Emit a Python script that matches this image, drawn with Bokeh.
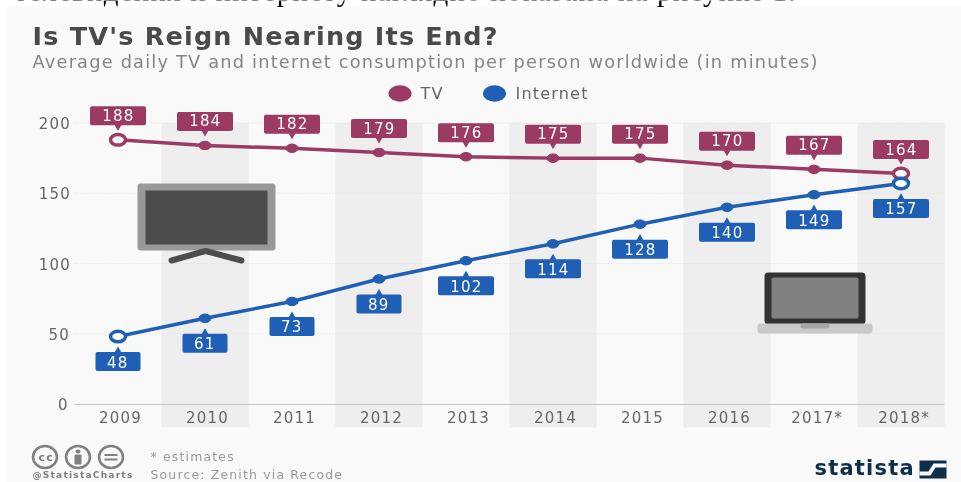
from bokeh.plotting import figure
from bokeh.models import Range1d, LinearAxis, FixedTicker
from bokeh.core.properties import value
from bokeh.embed import file_html
from bokeh.resources import INLINE

years = ["2009", "2010", "2011", "2012", "2013", "2014", "2015", "2016", "2017*", "2018*"]
tv = [188, 184, 182, 179, 176, 175, 175, 170, 167, 164]
internet = [48, 61, 73, 89, 102, 114, 128, 140, 149, 157]
y_ticks = [0, 50, 100, 150, 200]
TV_COL = "#9b3a63"
NET_COL = "#1f5fb5"
FONT = "DejaVu Sans"

W, H = 961, 482
XS, YS = 87.0, 1.405
def fx(px): return (px - 74) / XS - 0.5
def fy(py): return (403.5 - py) / YS
def dx(px): return px / XS
def dy(px): return px / YS

p = figure(width=W, height=H, toolbar_location=None, output_backend="svg", min_border=0,
           x_range=Range1d(fx(0), fx(W)), y_range=Range1d(fy(H), fy(0)),
           background_fill_color="#ffffff", border_fill_color="#ffffff", outline_line_color=None)
p.xaxis.visible = False
p.yaxis.visible = False
p.grid.visible = False
p.styles = {"position": "fixed", "left": "0px", "top": "0px", "letter-spacing": "1.2px"}

def rrect(l, t, r, b, color, radius=0):
    p.quad(left=fx(l), right=fx(r), top=fy(t), bottom=fy(b), fill_color=color, line_color=None, border_radius=radius)

def txt(x, y, s, size, color, style="normal", align="left", font=FONT, baseline="middle"):
    p.text(x=[fx(x)], y=[fy(y)], text=[s], text_font=value(font), text_font_size=f"{size}px", text_color=color,
           text_font_style=style, text_align=align, text_baseline=baseline)

# page text running behind the panel, then the panel
txt(14, -9.5, "телевидения и интернету наглядно показана на рисунке 1.", 29, "#000000", font="Liberation Serif", baseline="alphabetic")
rrect(6, 7, W, H, "#f9f9f9")

# bands
for i in range(1, 10, 2):
    p.quad(left=i - 0.5, right=i + 0.5, top=200, bottom=fy(427), fill_color="#eeeeee", line_color=None)
# grid
p.segment(x0=[-0.5] * 4, x1=[9.5] * 4, y0=y_ticks[1:], y1=y_ticks[1:], line_color="#dedede", line_dash="1 2", line_width=1)

# axes
xa = LinearAxis(ticker=FixedTicker(ticks=list(range(10))), major_label_overrides={i: y for i, y in enumerate(years)},
                fixed_location=0, bounds=(-0.5, 9.5))
xa.major_tick_line_color = None; xa.minor_tick_line_color = None
xa.axis_line_color = "#c6c6c6"; xa.axis_line_width = 1
xa.major_label_text_font = FONT; xa.major_label_text_font_size = "15px"; xa.major_label_text_color = "#666666"
xa.major_label_standoff = -1
p.add_layout(xa, "below")
ya = LinearAxis(ticker=FixedTicker(ticks=y_ticks), fixed_location=-0.5)
ya.major_tick_line_color = None; ya.minor_tick_line_color = None; ya.axis_line_color = None
ya.major_label_text_font = FONT; ya.major_label_text_font_size = "15px"; ya.major_label_text_color = "#666666"
ya.major_label_standoff = 1
p.add_layout(ya, "left")

# icons
rrect(137, 183, 275, 250, "#999999", 3)
rrect(145, 190, 267, 244, "#4d4d4d")
p.line(x=[fx(171), fx(205), fx(241)], y=[fy(260), fy(250.5), fy(260)], line_color="#4d4d4d", line_width=6, line_cap="round", line_join="round")
rrect(764, 272, 865, 324, "#333333", 4)
rrect(771, 277, 858, 318, "#808080", 2)
rrect(757, 323, 872, 333, "#c9c9c9", 3)
rrect(800, 323, 829, 328, "#a6a6a6", 2)

# lines
xs = list(range(10))
p.line(x=xs, y=tv, line_color=TV_COL, line_width=3.5)
p.line(x=xs, y=internet, line_color=NET_COL, line_width=3.5)
for ser, col in ((tv, TV_COL), (internet, NET_COL)):
    p.ellipse(x=xs[1:-1], y=ser[1:-1], width=dx(12), height=dy(8.5), fill_color=col, line_color=col)
    p.ellipse(x=[xs[0], xs[-1]], y=[ser[0], ser[-1]], width=dx(15), height=dy(10.5), fill_color="#ffffff", line_color=col, line_width=3.5)

# callouts
for i, v in enumerate(tv):
    p.quad(left=i - dx(28), right=i + dx(28), top=v + dy(33.5), bottom=v + dy(14.5), fill_color=TV_COL, line_color=None, border_radius=2)
    p.scatter(x=[i], y=[v + dy(13)], marker="inverted_triangle", size=7, fill_color=TV_COL, line_color=None)
    p.text(x=[i - dx(1.5)], y=[v + dy(25)], text=[str(v)], text_font=value(FONT), text_font_size="15px", text_color="#ffffff",
           text_align="center", text_baseline="middle")
for i, v in enumerate(internet):
    hw = 28 if v >= 100 else 22.5
    p.quad(left=i - dx(hw), right=i + dx(hw), top=v - dy(15.5), bottom=v - dy(34.5), fill_color=NET_COL, line_color=None, border_radius=2)
    p.scatter(x=[i], y=[v - dy(14)], marker="triangle", size=7, fill_color=NET_COL, line_color=None)
    p.text(x=[i - dx(1.5)], y=[v - dy(25)], text=[str(v)], text_font=value(FONT), text_font_size="15px", text_color="#ffffff",
           text_align="center", text_baseline="middle")

# heading
txt(32, 35, "Is TV's Reign Nearing Its End?", 25.5, "#4a4a4a", "bold")
txt(32, 61, "Average daily TV and internet consumption per person worldwide (in minutes)", 17.75, "#858585")

# legend
p.ellipse(x=[fx(399.5), fx(494)], y=[fy(93), fy(93)], width=dx(23), height=dy(16.5), fill_color=[TV_COL, NET_COL], line_color=None)
txt(420, 93, "TV", 16, "#666666")
txt(515, 93, "Internet", 16, "#666666")

# footer
for cx in (44.5, 77.5, 110.5):
    p.ellipse(x=[fx(cx)], y=[fy(456.5)], width=dx(24), height=dy(22), fill_color=None, line_color="#808080", line_width=2.5)
txt(44.5, 456.5, "cc", 11, "#808080", "bold", "center")
p.ellipse(x=[fx(77.5)], y=[fy(451)], width=dx(5), height=dy(4), fill_color="#808080", line_color=None)
rrect(74, 454, 81, 464, "#808080", 1)
rrect(104, 453.5, 117, 455.5, "#808080")
rrect(104, 458, 117, 460, "#808080")
txt(32, 474, "@StatistaCharts", 9.1, "#808080", "bold")
txt(150, 456, "* estimates", 12.4, "#999999")
txt(150, 474, "Source: Zenith via Recode", 12.4, "#999999")
txt(814, 467.5, "statista", 21, "#0f2e4a", "bold")
rrect(919, 460, 946, 478, "#0f2e4a")
p.patch(x=[fx(919), fx(928), fx(933), fx(946), fx(946), fx(935), fx(930), fx(919)],
        y=[fy(471), fy(471), fy(463), fy(463), fy(467), fy(467), fy(475), fy(475)], fill_color="#f9f9f9", line_color=None)

open("out.html", "w").write(file_html(p, INLINE))
